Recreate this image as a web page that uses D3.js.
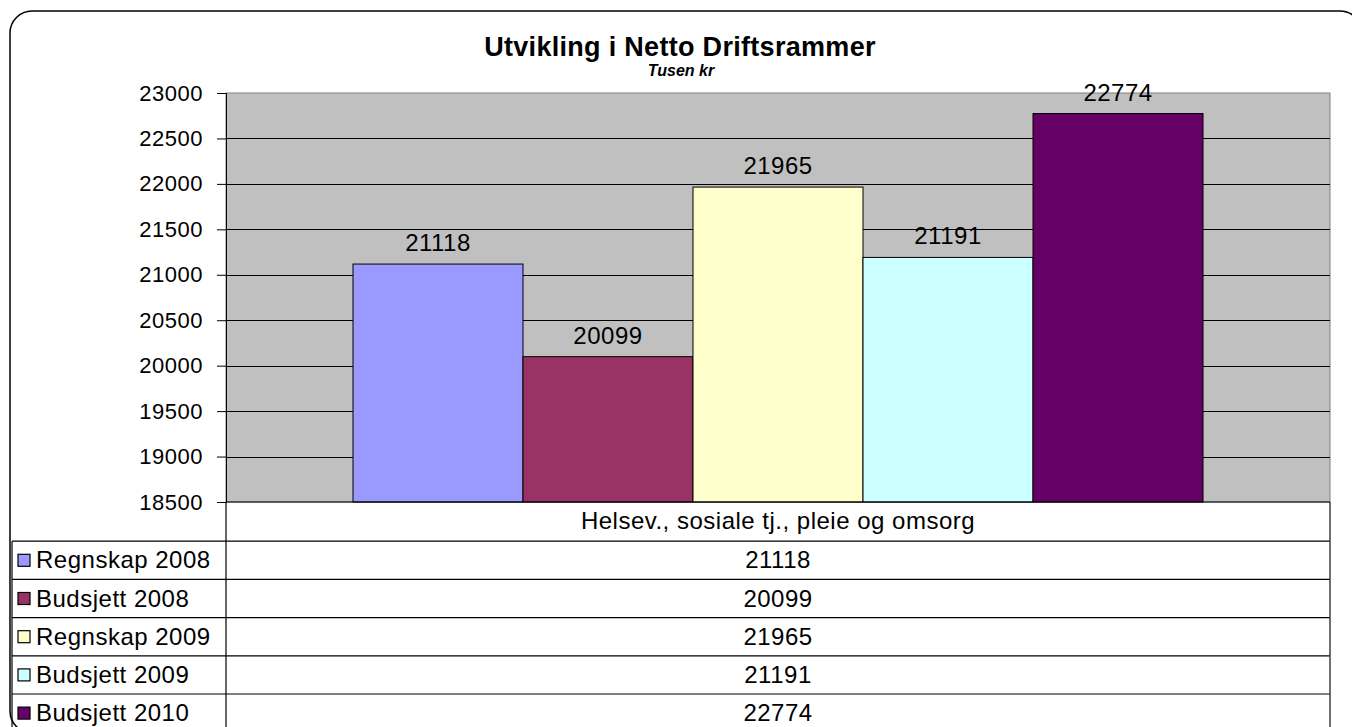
<!DOCTYPE html>
<html>
<head>
<meta charset="utf-8">
<script src="https://cdn.jsdelivr.net/npm/d3@7/dist/d3.min.js"></script>
<style>
  html, body { margin: 0; padding: 0; background: #fff; }
  svg { display: block; font-family: "Liberation Sans", Arial, sans-serif; }
</style>
</head>
<body>
<svg id="chart" width="1352" height="727"></svg>
<script>
const categories = ["Helsev., sosiale tj., pleie og omsorg"];
const seriesNames = ["Regnskap 2008", "Budsjett 2008", "Regnskap 2009", "Budsjett 2009", "Budsjett 2010"];
const seriesValues = [21118, 20099, 21965, 21191, 22774];
const seriesColors = ["#9999FF", "#993366", "#FFFFCC", "#CCFFFF", "#660066"];
const yTicks = [18500, 19000, 19500, 20000, 20500, 21000, 21500, 22000, 22500, 23000];
const yDomain = [18500, 23000];
const titleText = "Utvikling i Netto Driftsrammer";
const subtitleText = "Tusen kr";

const svg = d3.select("#chart");

// outer rounded frame
svg.append("rect")
  .attr("x", 10).attr("y", 11)
  .attr("width", 1352).attr("height", 722)
  .attr("rx", 22).attr("ry", 22)
  .attr("fill", "#fff").attr("stroke", "#000").attr("stroke-width", 1.5);

const plot = { left: 226, right: 1330, top: 93, bottom: 502 };
const tableLeft = 12;
const rowH = 38.2;

// title
svg.append("text")
  .attr("x", 680).attr("y", 56)
  .attr("text-anchor", "middle")
  .attr("font-size", 27).attr("font-weight", "bold")
  .attr("letter-spacing", 0.3)
  .text(titleText);
svg.append("text")
  .attr("x", 681).attr("y", 76)
  .attr("text-anchor", "middle")
  .attr("font-size", 16).attr("font-weight", "bold").attr("font-style", "italic")
  .text(subtitleText);

// scales
const y = d3.scaleLinear().domain(yDomain).range([plot.bottom, plot.top]);
const x0 = d3.scaleBand().domain(categories).range([plot.left, plot.right]).padding(0);
const x1 = d3.scaleBand().domain(seriesNames).range([0, x0.bandwidth()])
  .paddingInner(0).paddingOuter(0.747);

// plot background
svg.append("rect")
  .attr("x", plot.left).attr("y", plot.top)
  .attr("width", plot.right - plot.left).attr("height", plot.bottom - plot.top)
  .attr("fill", "#C0C0C0").attr("stroke", "#808080").attr("stroke-width", 1);

// gridlines
const grid = svg.append("g")
  .attr("transform", `translate(${plot.left},0)`)
  .call(d3.axisLeft(y).tickValues(yTicks.filter(t => t > yDomain[0] && t < yDomain[1]))
        .tickSize(-(plot.right - plot.left)).tickFormat(""));
grid.select(".domain").remove();
grid.selectAll(".tick line").attr("stroke", "#000").attr("stroke-width", 1)
  .attr("shape-rendering", "crispEdges");

// bars
const bars = svg.append("g");
categories.forEach(cat => {
  seriesNames.forEach((s, i) => {
    const v = seriesValues[i];
    bars.append("rect")
      .attr("x", x0(cat) + x1(s))
      .attr("y", y(v))
      .attr("width", x1.bandwidth())
      .attr("height", y(yDomain[0]) - y(v))
      .attr("fill", seriesColors[i])
      .attr("stroke", "#000").attr("stroke-width", 1);
    bars.append("text")
      .attr("x", x0(cat) + x1(s) + x1.bandwidth() / 2)
      .attr("y", y(v) - 13)
      .attr("text-anchor", "middle")
      .attr("font-size", 24).attr("letter-spacing", 0.5)
      .text(v);
  });
});

// y axis
const yAxis = svg.append("g")
  .attr("transform", `translate(${plot.left},0)`)
  .call(d3.axisLeft(y).tickValues(yTicks).tickSize(9).tickPadding(14).tickFormat(d3.format("d")));
yAxis.select(".domain").attr("stroke", "#000");
yAxis.selectAll(".tick line").attr("stroke", "#000");
yAxis.selectAll(".tick text")
  .attr("font-size", 22).attr("fill", "#000").attr("letter-spacing", 0.5)
  .attr("font-family", "'Liberation Sans', Arial, sans-serif");

// data table
const table = svg.append("g");
table.append("text")
  .attr("x", (plot.left + plot.right) / 2)
  .attr("y", plot.bottom + rowH / 2 + 8)
  .attr("text-anchor", "middle")
  .attr("font-size", 24).attr("letter-spacing", 0.5)
  .text(categories[0]);

seriesNames.forEach((s, i) => {
  const top = plot.bottom + (i + 1) * rowH + 1;
  table.append("line")
    .attr("x1", tableLeft).attr("x2", plot.right)
    .attr("y1", top).attr("y2", top)
    .attr("stroke", "#000").attr("stroke-width", 1.2);
  const cy = top + rowH / 2;
  table.append("rect")
    .attr("x", 18).attr("y", cy - 6)
    .attr("width", 12).attr("height", 12)
    .attr("fill", seriesColors[i]).attr("stroke", "#000").attr("stroke-width", 1.2);
  table.append("text")
    .attr("x", 36).attr("y", cy + 8)
    .attr("font-size", 24).attr("letter-spacing", 0.5)
    .text(s);
  table.append("text")
    .attr("x", (plot.left + plot.right) / 2)
    .attr("y", cy + 8)
    .attr("text-anchor", "middle")
    .attr("font-size", 24).attr("letter-spacing", 0.5)
    .text(seriesValues[i]);
});

// table verticals
const tableBottom = plot.bottom + (seriesNames.length + 1) * rowH + 1;
table.append("line")
  .attr("x1", tableLeft).attr("x2", tableLeft)
  .attr("y1", plot.bottom + rowH + 1).attr("y2", tableBottom)
  .attr("stroke", "#000").attr("stroke-width", 1.2);
table.append("line")
  .attr("x1", plot.left).attr("x2", plot.left)
  .attr("y1", plot.bottom).attr("y2", tableBottom)
  .attr("stroke", "#000").attr("stroke-width", 1.2);
table.append("line")
  .attr("x1", plot.right).attr("x2", plot.right)
  .attr("y1", plot.bottom).attr("y2", tableBottom)
  .attr("stroke", "#404040").attr("stroke-width", 1.5);
table.append("line")
  .attr("x1", plot.left).attr("x2", plot.right)
  .attr("y1", plot.bottom).attr("y2", plot.bottom)
  .attr("stroke", "#000").attr("stroke-width", 1.2);
</script>
</body>
</html>
